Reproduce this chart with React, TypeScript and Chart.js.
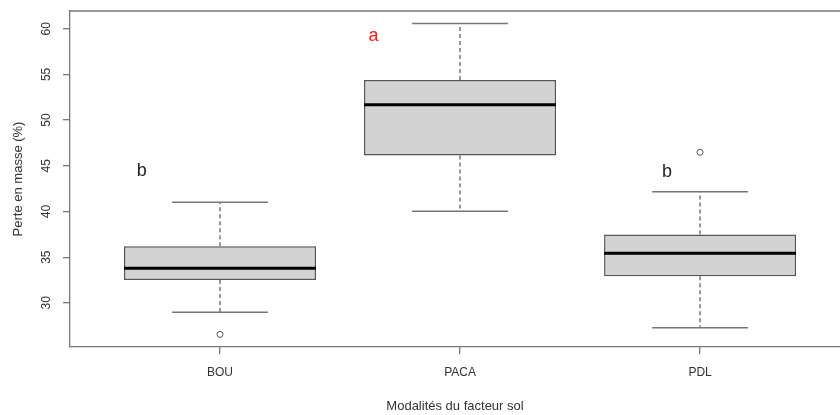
import React, { useEffect, useRef } from "react";
import { Chart, registerables } from "chart.js";

Chart.register(...registerables);

// ---- Data ----
const categories = ["BOU", "PACA", "PDL"];
const positions = [1, 2, 3];
const lowerWhisker = [28.96, 40.02, 27.28];
const q1 = [32.51, 46.12, 32.9];
const median = [33.78, 51.67, 35.42];
const q3 = [36.19, 54.4, 37.47];
const upperWhisker = [41.0, 60.57, 42.17];
const outlierPos = [1, 3];
const outlierVal = [26.55, 46.48];
const yTickValues = [30, 35, 40, 45, 50, 55, 60];
const letterText = ["b", "a", "b"];
const letterX = [0.674, 1.639, 2.862];
const letterY = [43.93, 58.63, 43.78];
const letterColor = ["#222222", "#ff1a1a", "#222222"];

const X_MIN = 0.375;
const X_MAX = 3.583;
const Y_MIN = 25.17;
const Y_MAX = 61.94;
const BOX_HALF = 0.4;
const CAP_HALF = 0.2;

const FONT = '"Liberation Sans", Arial, Helvetica, sans-serif';
const FRAME = "#777777";
const TEXT = "#333333";

export default function App() {
  const ref = useRef<HTMLCanvasElement | null>(null);

  useEffect(() => {
    document.body.style.margin = "0";
    const canvas = ref.current;
    if (!canvas) return;

    const extras = {
      id: "boxExtras",
      afterDatasetsDraw(chart: any) {
        const { ctx, scales } = chart;
        const x = scales.x;
        const y = scales.y;
        ctx.save();
        positions.forEach((p, i) => {
          const cx = x.getPixelForValue(p);
          const capL = x.getPixelForValue(p - CAP_HALF);
          const capR = x.getPixelForValue(p + CAP_HALF);
          const boxL = x.getPixelForValue(p - BOX_HALF);
          const boxR = x.getPixelForValue(p + BOX_HALF);
          const yLow = y.getPixelForValue(lowerWhisker[i]);
          const yQ1 = y.getPixelForValue(q1[i]);
          const yQ3 = y.getPixelForValue(q3[i]);
          const yUp = y.getPixelForValue(upperWhisker[i]);
          const yMed = y.getPixelForValue(median[i]);

          // dashed whiskers
          ctx.strokeStyle = "#555555";
          ctx.lineWidth = 1.2;
          ctx.setLineDash([4, 3]);
          ctx.beginPath();
          ctx.moveTo(cx, yQ3);
          ctx.lineTo(cx, yUp);
          ctx.moveTo(cx, yQ1);
          ctx.lineTo(cx, yLow);
          ctx.stroke();
          ctx.setLineDash([]);

          // caps
          ctx.strokeStyle = "#777777";
          ctx.lineWidth = 1.5;
          ctx.beginPath();
          ctx.moveTo(capL, yUp);
          ctx.lineTo(capR, yUp);
          ctx.moveTo(capL, yLow);
          ctx.lineTo(capR, yLow);
          ctx.stroke();

          // median
          ctx.strokeStyle = "#000000";
          ctx.lineWidth = 3;
          ctx.beginPath();
          ctx.moveTo(boxL, yMed);
          ctx.lineTo(boxR, yMed);
          ctx.stroke();
        });
        ctx.restore();
      },
      afterDraw(chart: any) {
        const { ctx, scales, chartArea } = chart;
        const x = scales.x;
        const y = scales.y;
        ctx.save();
        // top frame line
        ctx.strokeStyle = FRAME;
        ctx.lineWidth = 1.3;
        ctx.beginPath();
        ctx.moveTo(chartArea.left, chartArea.top);
        ctx.lineTo(chartArea.right, chartArea.top);
        ctx.stroke();

        // rotated y tick labels
        ctx.fillStyle = TEXT;
        ctx.font = `12px ${FONT}`;
        ctx.textAlign = "center";
        ctx.textBaseline = "middle";
        y.ticks.forEach((t: any) => {
          const py = y.getPixelForValue(t.value);
          ctx.save();
          ctx.translate(chartArea.left - 23, py);
          ctx.rotate(-Math.PI / 2);
          ctx.fillText(String(t.value), 0, 0);
          ctx.restore();
        });

        // group letters
        ctx.font = `18px ${FONT}`;
        ctx.textAlign = "center";
        ctx.textBaseline = "alphabetic";
        letterText.forEach((s, i) => {
          ctx.fillStyle = letterColor[i];
          ctx.fillText(s, x.getPixelForValue(letterX[i]), y.getPixelForValue(letterY[i]));
        });
        ctx.restore();
      },
    };

    const chart = new Chart(canvas, {
      type: "bar",
      data: {
        datasets: [
          {
            type: "bar",
            data: positions.map((p, i) => ({ x: p, y: [q1[i], q3[i]] })) as any,
            backgroundColor: "#d3d3d3",
            borderColor: "#555555",
            borderWidth: 1.5,
            borderSkipped: false,
            categoryPercentage: 0.8,
            barPercentage: 1,
          } as any,
          {
            type: "scatter",
            data: outlierPos.map((p, i) => ({ x: p, y: outlierVal[i] })),
            pointRadius: 3,
            pointBorderWidth: 1,
            pointBorderColor: "#555555",
            pointBackgroundColor: "#ffffff",
            pointStyle: "circle",
          } as any,
        ],
      },
      options: {
        responsive: false,
        animation: false,
        layout: { autoPadding: false, padding: { top: 11, right: 0, left: 0, bottom: 0 } },
        plugins: { legend: { display: false }, tooltip: { enabled: false } },
        scales: {
          x: {
            type: "linear",
            min: X_MIN,
            max: X_MAX,
            offset: false,
            afterBuildTicks: (s: any) => {
              s.ticks = positions.map((v) => ({ value: v }));
            },
            afterFit: (s: any) => {
              s.height = 68;
            },
            ticks: {
              callback: (v: any) => categories[Number(v) - 1] ?? "",
              font: { family: FONT, size: 12 },
              color: TEXT,
              padding: 11,
              maxRotation: 0,
              minRotation: 0,
            },
            grid: {
              offset: false,
              drawOnChartArea: false,
              drawTicks: true,
              tickLength: 7,
              color: FRAME,
              lineWidth: 1.3,
            },
            border: { display: true, color: FRAME, width: 1.3 },
            title: {
              display: true,
              text: "Modalités du facteur sol",
              font: { family: FONT, size: 13 },
              color: TEXT,
              padding: { top: 0, bottom: 1 },
            },
          },
          y: {
            type: "linear",
            min: Y_MIN,
            max: Y_MAX,
            afterBuildTicks: (s: any) => {
              s.ticks = yTickValues.map((v) => ({ value: v }));
            },
            afterFit: (s: any) => {
              s.width = 70;
            },
            ticks: { display: false },
            grid: {
              drawOnChartArea: false,
              drawTicks: true,
              tickLength: 7,
              color: FRAME,
              lineWidth: 1.3,
            },
            border: { display: true, color: FRAME, width: 1.3 },
            title: {
              display: true,
              text: "Perte en masse (%)",
              font: { family: FONT, size: 13 },
              color: TEXT,
              padding: { top: 11, bottom: 0 },
            },
          },
        },
      },
      plugins: [extras],
    });

    return () => chart.destroy();
  }, []);

  return (
    <div style={{ width: 840, height: 415, position: "relative", background: "#fff" }}>
      <canvas ref={ref} width={840} height={415} style={{ display: "block" }} />
    </div>
  );
}
